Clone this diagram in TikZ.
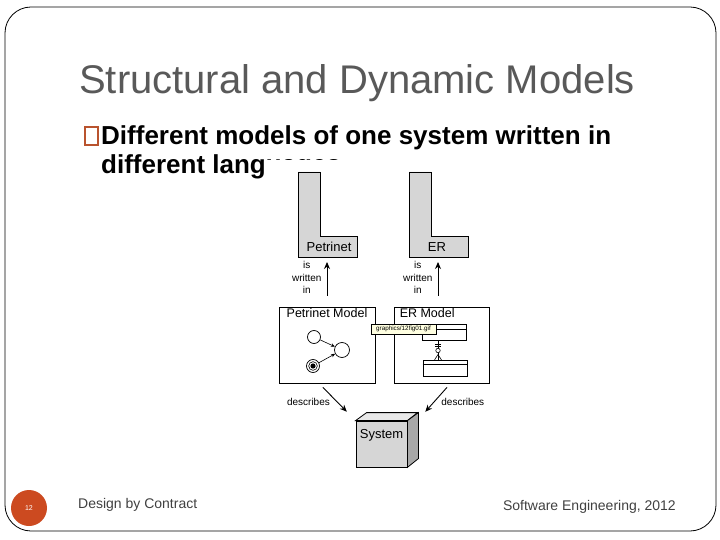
\documentclass[tikz,border=0pt]{standalone}
\usepackage{fontspec}
\setmainfont{Liberation Sans}
\usetikzlibrary{positioning,arrows.meta}

\definecolor{titlegray}{HTML}{595959}
\definecolor{footgray}{HTML}{404040}
\definecolor{bulletbrown}{HTML}{B9532E}
\definecolor{pagedot}{HTML}{CC4A20}
\definecolor{boxgray}{HTML}{D6D6D6}
\definecolor{sidegray}{HTML}{A8A8A8}
\definecolor{topgray}{HTML}{E8E8E8}
\definecolor{tipyellow}{HTML}{FFFFE1}

\newcommand{\fsz}[2]{\fontsize{#1}{#2}\selectfont}

\begin{document}
\begin{tikzpicture}[
    x=1pt, y=-1pt,
    every node/.style={inner sep=0pt},
    lang/.style={draw, fill=boxgray, line width=.8pt},
    langlbl/.style={font=\fsz{13}{15}},
    model/.style={draw, line width=.9pt, minimum width=96pt, minimum height=76pt},
    modellbl/.style={font=\fsz{12.5}{15}},
    lbl/.style={font=\fsz{10}{12.5}, align=center},
    arr/.style={-{Stealth[length=7pt,width=6pt]}, line width=.9pt},
    place/.style={circle, draw, fill=white, line width=.7pt, minimum size=13pt},
    parr/.style={-{Stealth[length=4pt,width=3.5pt]}, line width=.6pt},
    entity/.style={draw, line width=.7pt, minimum width=44pt, minimum height=16pt}
  ]
    \useasboundingbox (0,0) rectangle (720,540);
    \draw[line width=.8pt, rounded corners=26pt] (5,7) rectangle (716,531);

    % slide heading and bullet
    \node[anchor=base west, text=titlegray, font=\fsz{40}{48}] (title) at (79,94) {Structural and Dynamic Models};
    \node[draw=bulletbrown, line width=1.2pt, minimum width=13pt, minimum height=18pt] (bul) at (91.5,136) {};
    \node[anchor=base west, font=\bfseries\fsz{26}{29}] (line1) at (101,145) {Different models of one system written in};
    \node[anchor=base west, font=\bfseries\fsz{26}{29}] (line2) at (101,174) {different languages};

    % pasted figure covers the rest of the line
    \fill[white] (267,160.3) rectangle (500,480);

    % languages
    \draw[lang] (298,172) -- (320,172) -- (320,236) -- (357,236) -- (357,257) -- (298,257) -- cycle;
    \draw[lang] (409,172) -- (431,172) -- (431,236) -- (468,236) -- (468,257) -- (409,257) -- cycle;
    \node[langlbl] (pnlang) at (329,247) {Petrinet};
    \node[langlbl] (erlang) at (437,247) {ER};
    \coordinate (pnfoot) at (327,257);
    \coordinate (erfoot) at (438,257);

    % models
    \node[model] (pnmodel) at (327,345) {};
    \node[model, minimum width=95pt] (ermodel) at (441.5,345) {};
    \node[modellbl, below=2pt of pnmodel.north] (pnlbl) {Petrinet Model};
    \node[modellbl, below right=2pt and 6pt of ermodel.north west] (erlbl) {ER Model};

    \draw[arr, shorten <=11pt, shorten >=5pt] (pnmodel.north -| pnfoot) -- node[lbl, left=5pt, pos=.58] {is\\written\\in} (pnfoot);
    \draw[arr, shorten <=11pt, shorten >=5pt] (ermodel.north -| erfoot) -- node[lbl, left=5pt, pos=.58] {is\\written\\in} (erfoot);

    % petri net
    \node[place] (p1) at (314,337) {};
    \node[place, minimum size=15pt] (p2) at (342,350) {};
    \node[place] (p3) at (313,366) {};
    \draw[line width=.6pt] (p3) circle (4.3);
    \fill (p3) circle (2.6);
    \draw[parr] (p1) -- (p2);
    \draw[parr] (p3) -- (p2);

    % entities
    \node[entity] (ent1) at (444,332.5) {};
    \node[entity, minimum height=16pt] (ent2) at (445,368) {};
    \draw[line width=.7pt] ([yshift=-5.5pt]ent1.north west) -- ([yshift=-5.5pt]ent1.north east);
    \draw[line width=.7pt] ([yshift=-5pt]ent2.north west) -- ([yshift=-5pt]ent2.north east);
    \coordinate (reltop) at (438,340.5);
    \coordinate (relbot) at (438,360);
    \draw[line width=.6pt] (reltop) -- (relbot);
    \draw[line width=.6pt] (438,344) ++(-3,0) -- ++(6,0);
    \draw[line width=.6pt] (438,346.5) ++(-3,0) -- ++(6,0);
    \draw[line width=.6pt, fill=white] (438,350.5) circle (2.2);
    \draw[line width=.6pt] (438,354.5) -- (434.5,360);
    \draw[line width=.6pt] (438,354.5) -- (441.5,360);

    \node[draw, fill=tipyellow, line width=.5pt, minimum width=65pt, minimum height=10pt, font=\fsz{6.3}{7}] (tip) at (403.5,329) {graphics/12fig01.gif};

    % system cube
    \node[draw, fill=boxgray, line width=.8pt, minimum width=51pt, minimum height=46pt, text depth=21pt, font=\fsz{13}{15}] (system) at (381.5,444) {System};
    \draw[fill=topgray, line width=.8pt] (system.north west) -- ++(11,-8) -- ++(51,0) -- (system.north east) -- cycle;
    \draw[fill=sidegray, line width=.8pt] (system.north east) -- ++(11,-8) -- ++(0,46) -- (system.south east) -- cycle;

    \draw[arr, shorten <=5.5pt, shorten >=12.5pt] ([xshift=-8pt]pnmodel.south) -- node[lbl, left=7pt] {describes} (system.north west);
    \draw[arr, shorten <=5.3pt, shorten >=11.8pt] ([xshift=9pt]ermodel.south) -- node[lbl, right=7pt] {describes} ([xshift=10pt]system.north east);

    % footer
    \node[circle, fill=pagedot, minimum size=36pt, text=white, font=\fsz{7}{8}] (pgnum) at (29,508) {12};
    \node[anchor=west, text=footgray, font=\fsz{14}{16}] (course) at (78,505) {Design by Contract};
    \node[anchor=east, text=footgray, font=\fsz{14}{16}] (lecture) at (676,507) {Software Engineering, 2012};
\end{tikzpicture}
\end{document}
